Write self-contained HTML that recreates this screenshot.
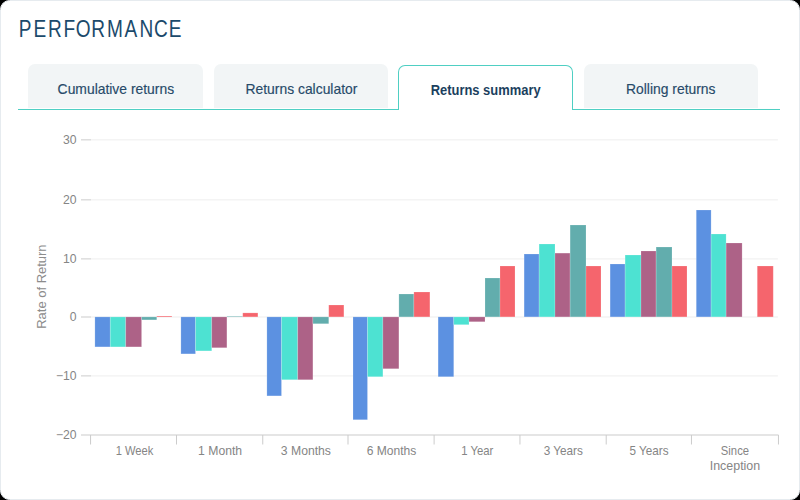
<!DOCTYPE html>
<html><head><meta charset="utf-8"><title>Performance</title>
<style>
html,body{margin:0;padding:0;width:800px;height:500px;background:#000;overflow:hidden;}
body{font-family:"Liberation Sans",sans-serif;}
.card{position:absolute;left:0;top:0;width:798px;height:498px;background:#fff;border:1px solid #e6ebef;border-radius:9.5px;overflow:hidden;}
.tabline{position:absolute;left:17px;top:107.5px;width:762px;height:1px;background:#4fcfc3;}
.tab{position:absolute;top:63.4px;height:44.1px;width:174.5px;background:#f2f5f6;border-radius:7px 7px 0 0;color:#274a69;font-size:14.5px;text-align:center;line-height:50.6px;box-sizing:border-box;white-space:nowrap;}
.tab span{display:inline-block;transform:scaleX(0.957);-webkit-text-stroke:0.15px #274a69;position:relative;left:0.4px;}
.tab.active span{transform:scaleX(0.892);-webkit-text-stroke:0;}
.tab.active{background:#fff;border:1px solid #4fcfc3;border-bottom:none;top:64.2px;height:44.8px;width:175px;font-weight:700;color:#1b3f5e;line-height:48.2px;}
svg{position:absolute;left:-1px;top:-1px;}
.tt{font-family:"Liberation Sans",sans-serif;font-size:24.8px;fill:#1b4a6b;}
.ax{font-family:"Liberation Sans",sans-serif;font-size:12.2px;fill:#858585;}
</style></head><body>
<div class="card">
<div class="tabline"></div>
<div class="tab" style="left:27px"><span>Cumulative returns</span></div>
<div class="tab" style="left:212.5px"><span>Returns calculator</span></div>
<div class="tab active" style="left:397px"><span>Returns summary</span></div>
<div class="tab" style="left:582.6px"><span>Rolling returns</span></div>
<svg width="800" height="500" viewBox="0 0 800 500">
<rect x="91" y="139.35" width="686.9" height="1" fill="#eeeeee"/>
<rect x="91" y="199.35" width="686.9" height="1" fill="#eeeeee"/>
<rect x="91" y="258.40" width="686.9" height="1" fill="#eeeeee"/>
<rect x="91" y="316.50" width="686.9" height="1" fill="#eeeeee"/>
<rect x="91" y="375.40" width="686.9" height="1" fill="#eeeeee"/>
<rect x="81" y="139.35" width="10" height="1" fill="#cccccc"/>
<rect x="81" y="199.35" width="10" height="1" fill="#cccccc"/>
<rect x="81" y="258.40" width="10" height="1" fill="#cccccc"/>
<rect x="81" y="316.50" width="10" height="1" fill="#cccccc"/>
<rect x="81" y="375.40" width="10" height="1" fill="#cccccc"/>
<rect x="94.90" y="316.90" width="15.35" height="30.00" fill="#5c91e1" stroke="#fff" stroke-opacity="0.22" stroke-width="0.8"/>
<rect x="110.25" y="316.90" width="15.50" height="30.00" fill="#4de2d2" stroke="#fff" stroke-opacity="0.22" stroke-width="0.8"/>
<rect x="125.75" y="316.90" width="15.85" height="30.00" fill="#ad6287" stroke="#fff" stroke-opacity="0.22" stroke-width="0.8"/>
<rect x="141.60" y="316.90" width="15.15" height="3.00" fill="#62adad" stroke="#fff" stroke-opacity="0.22" stroke-width="0.8"/>
<rect x="156.75" y="316.00" width="15.15" height="0.90" fill="#f5656d" stroke="#fff" stroke-opacity="0.22" stroke-width="0.8"/>
<rect x="180.90" y="316.90" width="14.60" height="37.00" fill="#5c91e1" stroke="#fff" stroke-opacity="0.22" stroke-width="0.8"/>
<rect x="195.50" y="316.90" width="16.25" height="34.00" fill="#4de2d2" stroke="#fff" stroke-opacity="0.22" stroke-width="0.8"/>
<rect x="211.75" y="316.90" width="15.15" height="30.85" fill="#ad6287" stroke="#fff" stroke-opacity="0.22" stroke-width="0.8"/>
<rect x="226.90" y="316.30" width="15.85" height="0.60" fill="#62adad" stroke="#fff" stroke-opacity="0.22" stroke-width="0.8"/>
<rect x="242.75" y="312.90" width="15.15" height="4.00" fill="#f5656d" stroke="#fff" stroke-opacity="0.22" stroke-width="0.8"/>
<rect x="266.90" y="316.90" width="14.60" height="79.00" fill="#5c91e1" stroke="#fff" stroke-opacity="0.22" stroke-width="0.8"/>
<rect x="281.50" y="316.90" width="16.25" height="62.85" fill="#4de2d2" stroke="#fff" stroke-opacity="0.22" stroke-width="0.8"/>
<rect x="297.75" y="316.90" width="15.15" height="62.85" fill="#ad6287" stroke="#fff" stroke-opacity="0.22" stroke-width="0.8"/>
<rect x="312.90" y="316.90" width="15.85" height="6.85" fill="#62adad" stroke="#fff" stroke-opacity="0.22" stroke-width="0.8"/>
<rect x="328.75" y="305.00" width="15.15" height="11.90" fill="#f5656d" stroke="#fff" stroke-opacity="0.22" stroke-width="0.8"/>
<rect x="353.00" y="316.90" width="14.50" height="102.85" fill="#5c91e1" stroke="#fff" stroke-opacity="0.22" stroke-width="0.8"/>
<rect x="367.50" y="316.90" width="15.40" height="59.85" fill="#4de2d2" stroke="#fff" stroke-opacity="0.22" stroke-width="0.8"/>
<rect x="382.90" y="316.90" width="16.00" height="51.85" fill="#ad6287" stroke="#fff" stroke-opacity="0.22" stroke-width="0.8"/>
<rect x="398.90" y="294.00" width="15.00" height="22.90" fill="#62adad" stroke="#fff" stroke-opacity="0.22" stroke-width="0.8"/>
<rect x="413.90" y="292.00" width="16.00" height="24.90" fill="#f5656d" stroke="#fff" stroke-opacity="0.22" stroke-width="0.8"/>
<rect x="438.10" y="316.90" width="15.65" height="59.85" fill="#5c91e1" stroke="#fff" stroke-opacity="0.22" stroke-width="0.8"/>
<rect x="453.75" y="316.90" width="15.25" height="7.80" fill="#4de2d2" stroke="#fff" stroke-opacity="0.22" stroke-width="0.8"/>
<rect x="469.00" y="316.90" width="16.00" height="4.85" fill="#ad6287" stroke="#fff" stroke-opacity="0.22" stroke-width="0.8"/>
<rect x="485.00" y="278.00" width="15.00" height="38.90" fill="#62adad" stroke="#fff" stroke-opacity="0.22" stroke-width="0.8"/>
<rect x="500.00" y="266.00" width="15.00" height="50.90" fill="#f5656d" stroke="#fff" stroke-opacity="0.22" stroke-width="0.8"/>
<rect x="524.10" y="254.00" width="15.00" height="62.90" fill="#5c91e1" stroke="#fff" stroke-opacity="0.22" stroke-width="0.8"/>
<rect x="539.10" y="244.00" width="15.90" height="72.90" fill="#4de2d2" stroke="#fff" stroke-opacity="0.22" stroke-width="0.8"/>
<rect x="555.00" y="253.10" width="15.10" height="63.80" fill="#ad6287" stroke="#fff" stroke-opacity="0.22" stroke-width="0.8"/>
<rect x="570.10" y="225.00" width="15.90" height="91.90" fill="#62adad" stroke="#fff" stroke-opacity="0.22" stroke-width="0.8"/>
<rect x="586.00" y="266.00" width="15.00" height="50.90" fill="#f5656d" stroke="#fff" stroke-opacity="0.22" stroke-width="0.8"/>
<rect x="610.10" y="264.00" width="15.00" height="52.90" fill="#5c91e1" stroke="#fff" stroke-opacity="0.22" stroke-width="0.8"/>
<rect x="625.10" y="255.00" width="15.90" height="61.90" fill="#4de2d2" stroke="#fff" stroke-opacity="0.22" stroke-width="0.8"/>
<rect x="641.00" y="251.00" width="15.10" height="65.90" fill="#ad6287" stroke="#fff" stroke-opacity="0.22" stroke-width="0.8"/>
<rect x="656.10" y="247.00" width="15.90" height="69.90" fill="#62adad" stroke="#fff" stroke-opacity="0.22" stroke-width="0.8"/>
<rect x="672.00" y="266.00" width="15.00" height="50.90" fill="#f5656d" stroke="#fff" stroke-opacity="0.22" stroke-width="0.8"/>
<rect x="696.25" y="210.00" width="14.85" height="106.90" fill="#5c91e1" stroke="#fff" stroke-opacity="0.22" stroke-width="0.8"/>
<rect x="711.10" y="234.00" width="15.00" height="82.90" fill="#4de2d2" stroke="#fff" stroke-opacity="0.22" stroke-width="0.8"/>
<rect x="726.10" y="243.00" width="16.00" height="73.90" fill="#ad6287" stroke="#fff" stroke-opacity="0.22" stroke-width="0.8"/>
<rect x="757.25" y="266.00" width="16.00" height="50.90" fill="#f5656d" stroke="#fff" stroke-opacity="0.22" stroke-width="0.8"/>
<rect x="81" y="434.5" width="697.5" height="1" fill="#cccccc"/>
<rect x="90.06" y="435" width="1" height="9.5" fill="#cccccc"/>
<rect x="176.00" y="435" width="1" height="9.5" fill="#cccccc"/>
<rect x="262.25" y="435" width="1" height="9.5" fill="#cccccc"/>
<rect x="347.50" y="435" width="1" height="9.5" fill="#cccccc"/>
<rect x="433.60" y="435" width="1" height="9.5" fill="#cccccc"/>
<rect x="519.45" y="435" width="1" height="9.5" fill="#cccccc"/>
<rect x="605.70" y="435" width="1" height="9.5" fill="#cccccc"/>
<rect x="690.95" y="435" width="1" height="9.5" fill="#cccccc"/>
<rect x="777.95" y="435" width="1" height="9.5" fill="#cccccc"/>
<text x="76.6" y="143.75" text-anchor="end" class="ax">30</text>
<text x="76.6" y="203.75" text-anchor="end" class="ax">20</text>
<text x="76.6" y="262.80" text-anchor="end" class="ax">10</text>
<text x="76.6" y="320.90" text-anchor="end" class="ax">0</text>
<text x="76.6" y="379.80" text-anchor="end" class="ax">−10</text>
<text x="76.6" y="438.90" text-anchor="end" class="ax">−20</text>
<text transform="translate(134.53,454.6) scale(0.915,1)" text-anchor="middle" class="ax">1 Week</text>
<text transform="translate(220.12,454.6) scale(1.0,1)" text-anchor="middle" class="ax">1 Month</text>
<text transform="translate(305.88,454.6) scale(1.0,1)" text-anchor="middle" class="ax">3 Months</text>
<text transform="translate(391.55,454.6) scale(0.99,1)" text-anchor="middle" class="ax">6 Months</text>
<text transform="translate(477.33,454.6) scale(0.93,1)" text-anchor="middle" class="ax">1 Year</text>
<text transform="translate(563.28,454.6) scale(0.965,1)" text-anchor="middle" class="ax">3 Years</text>
<text transform="translate(649.03,454.6) scale(0.96,1)" text-anchor="middle" class="ax">5 Years</text>
<text transform="translate(734.95,454.6) scale(0.925,1)" text-anchor="middle" class="ax">Since</text>
<text transform="translate(734.95,469.6) scale(1.02,1)" text-anchor="middle" class="ax">Inception</text>
<text transform="translate(45.6,286.6) rotate(-90) scale(1.063,1)" text-anchor="middle" class="ax" style="fill:#8c8c8c">Rate of Return</text>
<text transform="translate(0,36.85) scale(0.7688,1)" class="tt" x="24.42 43.67 62.48 82.57 98.65 118.67 139.13 162.06 181.60 200.37 219.59">PERFORMANCE</text>
</svg>
</div>
</body></html>
